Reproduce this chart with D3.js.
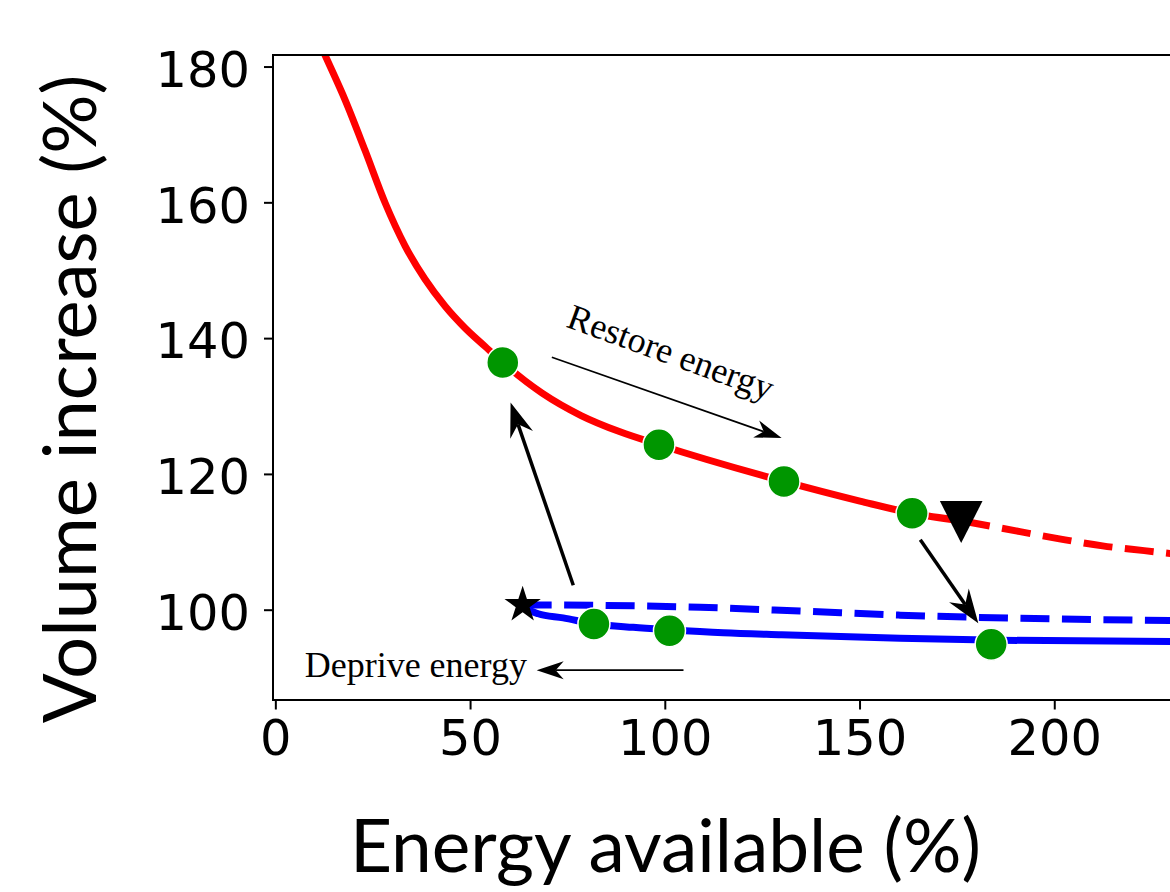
<!DOCTYPE html>
<html>
<head>
<meta charset="utf-8">
<script src="https://cdn.jsdelivr.net/npm/d3@7"></script>
<style>
  body { margin: 0; background: #fff; }
  svg { display: block; }
</style>
</head>
<body>
<div id="chart"></div>
<script>
// upper (red) branch, solid part up to the fold marker
var redSolidEnergy = [7.6, 12.75, 17.9, 23.0, 28.2, 33.3, 38.4, 43.6, 48.7, 53.8, 58.4, 68.5, 78.5, 88.5, 98.5, 130.6, 150.1, 163.5, 176.1];
var redSolidVolume = [188.3, 181.7, 175.1, 167.7, 159.9, 153.6, 148.7, 144.7, 141.5, 138.8, 136.4, 131.9, 128.6, 126.2, 124.3, 118.9, 116.0, 114.2, 113.1];
// its dashed continuation
var redDashEnergy = [176.1, 191.2, 201.7, 212.4, 223.1, 231.0];
var redDashVolume = [113.1, 111.5, 110.4, 109.4, 108.7, 108.2];

// lower (blue) branch, solid and dashed both start at the star
var blueSolidEnergy = [63.5, 65.0, 67.5, 73.9, 82.1, 91.9, 101.1, 115, 130, 160.4, 186.1, 232];
var blueSolidVolume = [100.7, 100.0, 99.4, 98.8, 97.9, 97.4, 97.05, 96.6, 96.3, 95.8, 95.5, 95.3];
var blueDashEnergy = [63.5, 65.4, 109.1, 134.7, 160.4, 232];
var blueDashVolume = [100.7, 100.7, 100.35, 99.8, 99.2, 98.4];

// measured states
var greenEnergy = [58.4, 98.5, 130.6, 163.5, 81.8, 101.2, 183.8];
var greenVolume = [136.4, 124.3, 118.9, 114.2, 97.9, 96.9, 94.9];
var star = [63.5, 100.7];
var triangle = [176.1, 112.9];

var xTicks = [0, 50, 100, 150, 200];
var yTicks = [100, 120, 140, 160, 180];

// annotation arrows: [tailE, tailV, tipE, tipV, heavy]
var arrows = [
  [76.5, 103.6, 60.4, 130.5, true],
  [165.6, 110.3, 180.5, 98.0, true],
  [71.0, 137.2, 130.0, 125.3, false],
  [104.8, 91.1, 67.1, 91.1, false]
];
var labelRestore = [74.4, 141.7];
var labelDeprive = [64.6, 90.1];

var width = 1170, height = 892;
var plotLeft = 273, plotTop = 55, plotBottom = 700, plotRight = 1175;

var svg = d3.select("#chart").append("svg")
  .attr("width", width)
  .attr("height", height);

var x = d3.scaleLinear().domain([-0.6, 231]).range([plotLeft, plotRight]);
var y = d3.scaleLinear().domain([86.7, 181.7]).range([plotBottom, plotTop]);

svg.append("clipPath").attr("id", "plot")
  .append("rect")
  .attr("x", plotLeft).attr("y", plotTop)
  .attr("width", plotRight - plotLeft).attr("height", plotBottom - plotTop);

function pairs(es, vs) {
  return es.map(function(e, i) { return [e, vs[i]]; });
}

var line = d3.line()
  .x(function(d) { return x(d[0]); })
  .y(function(d) { return y(d[1]); })
  .curve(d3.curveMonotoneX);

var plot = svg.append("g").attr("clip-path", "url(#plot)");

function curve(es, vs, color, dashed) {
  plot.append("path")
    .datum(pairs(es, vs))
    .attr("fill", "none")
    .attr("stroke", color)
    .attr("stroke-width", 7)
    .attr("stroke-dasharray", dashed ? "29,12.5" : null)
    .attr("d", line);
}

curve(blueDashEnergy, blueDashVolume, "#0000ff", true);
curve(blueSolidEnergy, blueSolidVolume, "#0000ff", false);
curve(redDashEnergy, redDashVolume, "#ff0000", true);
curve(redSolidEnergy, redSolidVolume, "#ff0000", false);

plot.selectAll("circle.state")
  .data(pairs(greenEnergy, greenVolume))
  .enter().append("circle")
  .attr("class", "state")
  .attr("cx", function(d) { return x(d[0]); })
  .attr("cy", function(d) { return y(d[1]); })
  .attr("r", 16)
  .attr("fill", "#009600")
  .attr("stroke", "#fff")
  .attr("stroke-width", 1.5);

plot.append("path")
  .attr("d", d3.symbol().type(d3.symbolStar).size(410)())
  .attr("transform", "translate(" + x(star[0]) + "," + y(star[1]) + ")")
  .attr("fill", "#000");

plot.append("path")
  .attr("d", "M-21.3,-21L21.3,-21L0,21Z")
  .attr("transform", "translate(" + x(triangle[0]) + "," + y(triangle[1]) + ")")
  .attr("fill", "#000");

// arrows with a notched filled head
arrows.forEach(function(a) {
  var x1 = x(a[0]), y1 = y(a[1]), x2 = x(a[2]), y2 = y(a[3]);
  var heavy = a[4];
  var len = heavy ? 34 : 27, hw = heavy ? 12 : 9, notch = heavy ? 11 : 8;
  var ang = Math.atan2(y2 - y1, x2 - x1);
  var ux = Math.cos(ang), uy = Math.sin(ang), nx = -uy, ny = ux;
  var bx = x2 - ux * len, by = y2 - uy * len;
  var mx = x2 - ux * (len - notch), my = y2 - uy * (len - notch);
  svg.append("line")
    .attr("x1", x1).attr("y1", y1)
    .attr("x2", mx).attr("y2", my)
    .attr("stroke", "#000")
    .attr("stroke-width", heavy ? 3.5 : 1.6);
  svg.append("path")
    .attr("d", "M" + x2 + "," + y2 +
      "L" + (bx + nx * hw) + "," + (by + ny * hw) +
      "L" + mx + "," + my +
      "L" + (bx - nx * hw) + "," + (by - ny * hw) + "Z")
    .attr("fill", "#000");
});

svg.append("text")
  .attr("transform", "translate(" + x(labelRestore[0]) + "," + y(labelRestore[1]) + ") rotate(20)")
  .attr("font-family", "'Liberation Serif', serif")
  .attr("font-size", 36)
  .text("Restore energy");

svg.append("text")
  .attr("x", x(labelDeprive[0]))
  .attr("y", y(labelDeprive[1]))
  .attr("text-anchor", "end")
  .attr("font-family", "'Liberation Serif', serif")
  .attr("font-size", 36)
  .text("Deprive energy");

// axes
var gx = svg.append("g")
  .attr("transform", "translate(0," + plotBottom + ")")
  .call(d3.axisBottom(x).tickValues(xTicks).tickSize(9.5).tickPadding(10.5).tickFormat(d3.format("d")));
var gy = svg.append("g")
  .attr("transform", "translate(" + plotLeft + ",0)")
  .call(d3.axisLeft(y).tickValues(yTicks).tickSize(9).tickPadding(14).tickFormat(d3.format("d")));

[gx, gy].forEach(function(g) {
  g.select(".domain").remove();
  g.selectAll(".tick line").attr("stroke", "#000").attr("stroke-width", 2);
  g.selectAll(".tick text")
    .attr("fill", "#000")
    .attr("font-family", "'DejaVu Sans', sans-serif")
    .attr("font-size", 49.5);
});
gy.selectAll(".tick text").attr("dy", "0.40em");

// spines
svg.append("path")
  .attr("d", "M" + plotRight + "," + plotTop + "H" + plotLeft + "V" + plotBottom + "H" + plotRight)
  .attr("fill", "none")
  .attr("stroke", "#000")
  .attr("stroke-width", 2);

svg.append("text")
  .attr("x", 665.5)
  .attr("y", 872)
  .attr("text-anchor", "middle")
  .attr("font-family", "Lato, sans-serif")
  .attr("font-size", 73)
  .text("Energy available (%)");

svg.append("text")
  .attr("transform", "translate(96,399) rotate(-90)")
  .attr("text-anchor", "middle")
  .attr("font-family", "Lato, sans-serif")
  .attr("font-size", 74)
  .text("Volume increase (%)");
</script>
</body>
</html>
